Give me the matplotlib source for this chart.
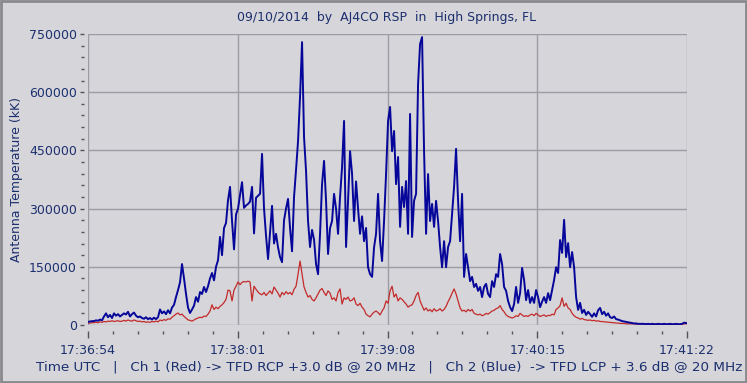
import numpy as np
import matplotlib
matplotlib.use("Agg")
import matplotlib.pyplot as plt
from matplotlib.ticker import MultipleLocator, FixedLocator, FixedFormatter
from matplotlib.patches import Rectangle

# samples are ~0.895 s apart starting at 17:36:54 UTC
sample_step = 0.895

# Ch 2 (Blue), antenna temperature in thousands of kK
blue_k = [8, 9, 10, 10, 12, 11, 14, 12, 22, 30, 20, 26, 18, 30, 24, 28, 22, 26, 30, 27,
          34, 22, 28, 32, 24, 20, 22, 18, 16, 20, 15, 18, 14, 19, 15, 20, 40, 30, 35, 28,
          38, 30, 45, 52, 72, 90, 110, 157, 120, 80, 45, 31, 40, 50, 72, 60, 85, 80, 98, 85,
          100, 120, 134, 115, 150, 167, 227, 180, 250, 263, 322, 356, 268, 195, 285, 300, 335, 368, 302, 308,
          312, 318, 356, 236, 328, 333, 338, 441, 300, 230, 170, 240, 307, 210, 235, 200, 175, 162, 270, 300,
          325, 250, 190, 330, 400, 474, 588, 729, 484, 397, 268, 201, 245, 220, 157, 131, 235, 363, 423, 320,
          183, 250, 268, 338, 300, 235, 330, 407, 526, 201, 320, 448, 390, 268, 370, 300, 235, 280, 216, 250,
          149, 131, 124, 200, 235, 338, 216, 165, 268, 389, 526, 562, 448, 500, 363, 433, 253, 356, 304, 371,
          235, 544, 227, 320, 338, 621, 724, 742, 448, 235, 389, 268, 312, 253, 320, 268, 201, 149, 216, 149,
          201, 216, 286, 356, 454, 320, 216, 338, 124, 183, 149, 113, 124, 98, 106, 88, 98, 72, 98, 106,
          80, 72, 113, 98, 131, 124, 183, 157, 98, 88, 62, 46, 36, 54, 98, 57, 82, 147, 116, 64,
          90, 57, 72, 57, 90, 72, 46, 60, 72, 57, 82, 64, 90, 116, 149, 134, 219, 186, 271, 175,
          211, 149, 188, 149, 72, 39, 57, 31, 39, 26, 34, 28, 21, 30, 22, 38, 44, 28, 34, 24,
          30, 20, 18, 22, 15, 14, 12, 10, 9, 8, 7, 6, 5, 4, 4, 3, 3, 3, 3, 2,
          3, 2, 3, 2, 2, 3, 2, 2, 3, 2, 2, 3, 2, 2, 3, 2, 2, 3, 6, 5]

# Ch 1 (Red), antenna temperature in thousands of kK
red_k = [5, 5, 6, 6, 7, 6, 8, 7, 9, 8, 10, 9, 11, 9, 10, 11, 9, 10, 12, 10,
         13, 11, 10, 13, 11, 9, 10, 8, 9, 7, 8, 7, 9, 8, 10, 8, 13, 11, 14, 12,
         16, 15, 20, 24, 28, 31, 26, 28, 22, 18, 13, 12, 10, 13, 16, 18, 20, 19, 23, 22,
         28, 36, 52, 40, 46, 42, 48, 52, 58, 66, 90, 88, 62, 90, 100, 111, 104, 110, 112, 111,
         113, 111, 62, 100, 92, 85, 80, 78, 84, 76, 82, 88, 80, 98, 90, 82, 72, 84, 78, 86,
         80, 84, 78, 92, 100, 131, 165, 131, 98, 84, 72, 76, 66, 62, 70, 80, 90, 94, 84, 76,
         88, 82, 66, 70, 62, 84, 93, 54, 70, 66, 72, 62, 64, 70, 54, 50, 56, 46, 40, 28,
         24, 21, 28, 33, 36, 32, 26, 36, 44, 62, 56, 88, 100, 72, 80, 62, 70, 66, 60, 54,
         46, 50, 52, 62, 76, 84, 62, 50, 38, 44, 36, 40, 34, 42, 36, 38, 42, 36, 40, 48,
         60, 70, 82, 93, 80, 62, 44, 36, 38, 34, 40, 36, 40, 30, 28, 26, 28, 24, 26, 30,
         28, 32, 36, 38, 42, 44, 50, 40, 34, 26, 22, 20, 18, 20, 24, 22, 30, 26, 22, 24,
         22, 26, 28, 24, 30, 26, 22, 24, 26, 22, 25, 24, 28, 26, 40, 44, 50, 70, 48, 56,
         44, 40, 30, 24, 20, 18, 15, 17, 14, 13, 12, 13, 11, 12, 10, 11, 9, 9, 8, 8,
         7, 7, 6, 6, 5, 5, 4, 4, 4, 3, 3, 3, 3, 3, 2, 3, 3, 2, 3, 2,
         3, 2, 2, 3, 2, 2, 3, 2, 2, 2, 3, 2, 2, 2, 3, 2, 2, 2, 3, 3]

tick_seconds = [0, 67, 134, 201, 268]
tick_labels = ["17:36:54", "17:38:01", "17:39:08", "17:40:15", "17:41:22"]

title = "09/10/2014  by  AJ4CO RSP  in  High Springs, FL"
caption = ("Time UTC   |   Ch 1 (Red) -> TFD RCP +3.0 dB @ 20 MHz   |   "
           "Ch 2 (Blue)  -> TFD LCP + 3.6 dB @ 20 MHz")

bg = "#d5d5da"
gridc = "#9c9ca2"
txtc = "#1c2f6e"

blue = np.array(blue_k) * 1000
red = np.array(red_k) * 1000
t_blue = np.arange(len(blue)) * sample_step
t_red = np.arange(len(red)) * sample_step

fig = plt.figure(figsize=(7.47, 3.83), dpi=100, facecolor=bg)
ax = fig.add_axes([88 / 747, 1 - 325 / 383, 599 / 747, 291 / 383])
ax.set_facecolor(bg)

ax.plot(t_red, red, color="#c42a2a", lw=0.9, zorder=3)
ax.plot(t_blue, blue, color="#06069a", lw=1.4, zorder=4)

ax.set_xlim(0, 268)
ax.set_ylim(0, 750000)

ax.xaxis.set_major_locator(FixedLocator(tick_seconds))
ax.xaxis.set_major_formatter(FixedFormatter(tick_labels))
ax.xaxis.set_minor_locator(MultipleLocator(67 / 6))
ax.yaxis.set_major_locator(MultipleLocator(150000))
ax.yaxis.set_minor_locator(MultipleLocator(30000))

ax.grid(True, which="major", color=gridc, lw=1.0)
ax.set_axisbelow(True)
for s in ax.spines.values():
    s.set_visible(False)
ax.spines["left"].set_position(("outward", 3))
ax.spines["bottom"].set_position(("outward", 4))

ax.tick_params(which="major", length=3, width=1, color="#555555",
               labelsize=9, labelcolor=txtc, pad=2)
ax.tick_params(which="minor", length=2, width=1, color="#555555")
ax.tick_params(axis="x", which="major", length=5, pad=5)

ax.set_ylabel("Antenna Temperature (kK)", color=txtc, fontsize=9, labelpad=4)

fig.text(387 / 747, 1 - 18 / 383, title, ha="center", va="center", fontsize=9, color=txtc)
fig.text(389 / 747, 1 - 367 / 383, caption, ha="center", va="center", fontsize=9.7, color=txtc)

fig.add_artist(Rectangle((0.002, 0.002), 0.996, 0.996, transform=fig.transFigure,
                         fill=False, edgecolor="#8a8a8e", lw=2))

fig.savefig("out.png", dpi=100, facecolor=bg)
